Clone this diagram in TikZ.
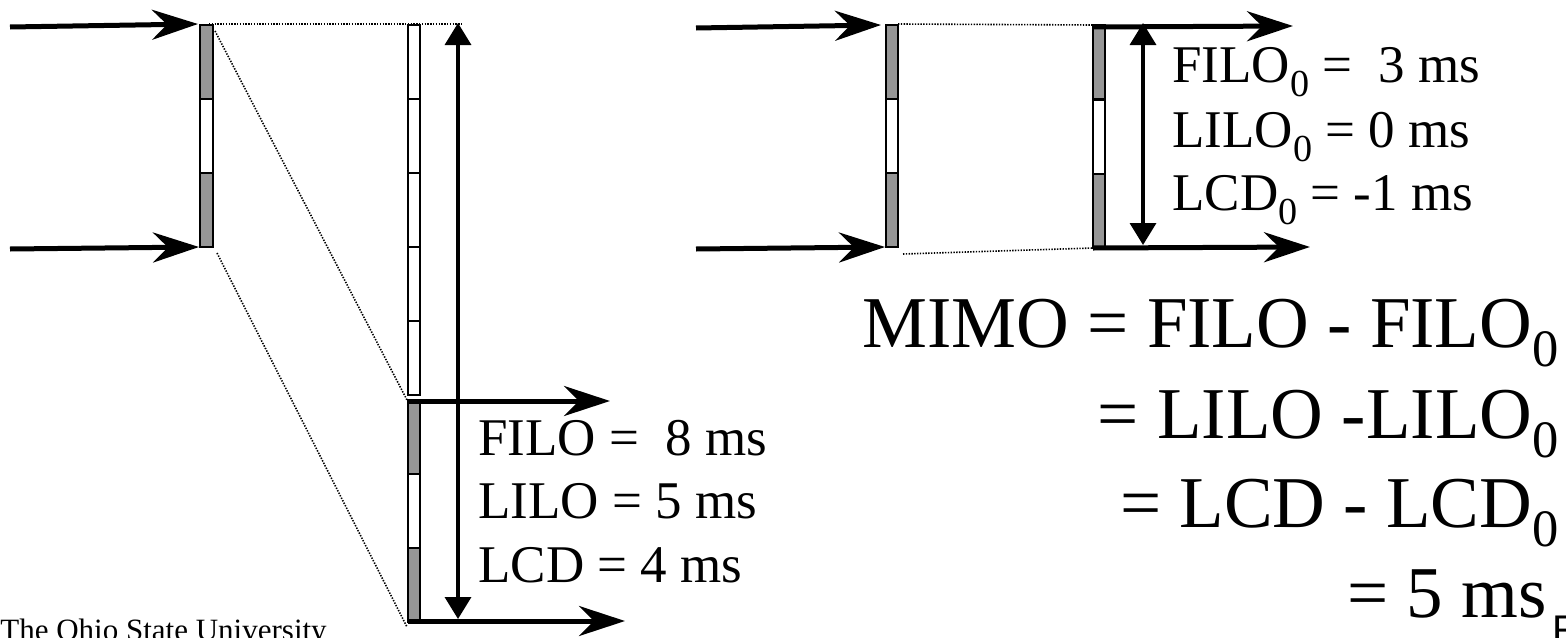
\documentclass[tikz,border=0pt]{standalone}
\usepackage{fontspec}
\setmainfont{Liberation Serif}
\setsansfont{Liberation Sans}
\usetikzlibrary{arrows.meta}
\definecolor{bitgray}{RGB}{150,150,150}
\newcommand{\subzero}{\raisebox{-0.27em}{\scalebox{0.72}{0}}}

\begin{document}
\begin{tikzpicture}[x=0.5pt,y=-0.5pt,
  bit/.style={draw,line width=1pt,fill=white},
  setbit/.style={bit,fill=bitgray},
  feed/.style={line width=2.5pt,-{Stealth[length=23pt,width=15pt,inset=7.5pt]}},
  span/.style={line width=1.75pt,{Triangle[length=11pt,width=13pt]}-{Triangle[length=11pt,width=13pt]}},
  guide/.style={line width=0.8pt,dash pattern=on 0.7pt off 0.7pt},
  val/.style={anchor=base west,inner sep=0pt,font=\fontsize{26.5pt}{32pt}\selectfont},
  eqn/.style={anchor=base east,inner sep=0pt,font=\fontsize{36.5pt}{45pt}\selectfont}]
\useasboundingbox (0,0) rectangle (1566,637);

\draw[guide] (209,24) -- (463,24);
\draw[guide] (215,31) -- (407,400);
\draw[guide] (217,253) -- (407,627);
\draw[guide] (898,24) -- (1093,25);
\draw[guide] (903,254) -- (1093,248);

\foreach \t/\s in {25/setbit,99/bit,173/setbit}
  \draw[\s] (200,\t) rectangle (213,\t+73.5);
\foreach \t in {25,99,173,247,321}
  \draw[bit] (408,\t) rectangle (420,\t+74);
\foreach \t/\s in {400/setbit,474/bit,548/setbit}
  \draw[\s] (408,\t) rectangle (420,\t+74);
\foreach \t/\s in {25/setbit,99/bit,173/setbit}
  \draw[\s] (886,\t) rectangle (898,\t+73.5);
\foreach \t/\s in {25/setbit,99.5/bit,174/setbit}
  \draw[\s] (1093,\t) rectangle (1105,\t+74.3);

\draw[feed] (10,27) -- (198,24);
\draw[feed] (10,249) -- (199,247);
\draw[feed] (696,28) -- (881,25);
\draw[feed] (696,249) -- (885,247);

\draw[span] (458,23) -- (458,619);
\draw[feed] (408,401) -- (610,401);
\draw[feed] (408,621) -- (625,621);

\draw[span] (1143,23) -- (1143,245);
\draw[feed] (1093,27) -- (1293,26);
\draw[feed] (1093,248) -- (1310,247);

\node[val] (filo) at (478,455) {FILO = \ 8 ms};
\node[val] (lilo) at (478,518) {LILO = 5 ms};
\node[val] (lcd) at (478,582) {LCD = 4 ms};

\node[val] (filoz) at (1172,82) {FILO\subzero{} = \ 3 ms};
\node[val] (liloz) at (1172,147) {LILO\subzero{} = 0 ms};
\node[val] (lcdz) at (1172,210) {LCD\subzero{} = -1 ms};

\node[eqn] (mimo) at (1559,347) {MIMO = FILO - FILO\subzero};
\node[eqn] (eqlilo) at (1559,438) {= LILO -LILO\subzero};
\node[eqn] (eqlcd) at (1559,527) {= LCD - LCD\subzero};
\node[eqn] (eqms) at (1547,617) {= 5 ms};

\node[anchor=base west,inner sep=0pt,font=\fontsize{15.5pt}{18pt}\selectfont] (osu) at (0,640) {The Ohio State University};
\node[anchor=base west,inner sep=0pt,font=\sffamily\fontsize{20pt}{24pt}\selectfont] (corner) at (1552,643) {R};
\end{tikzpicture}
\end{document}
